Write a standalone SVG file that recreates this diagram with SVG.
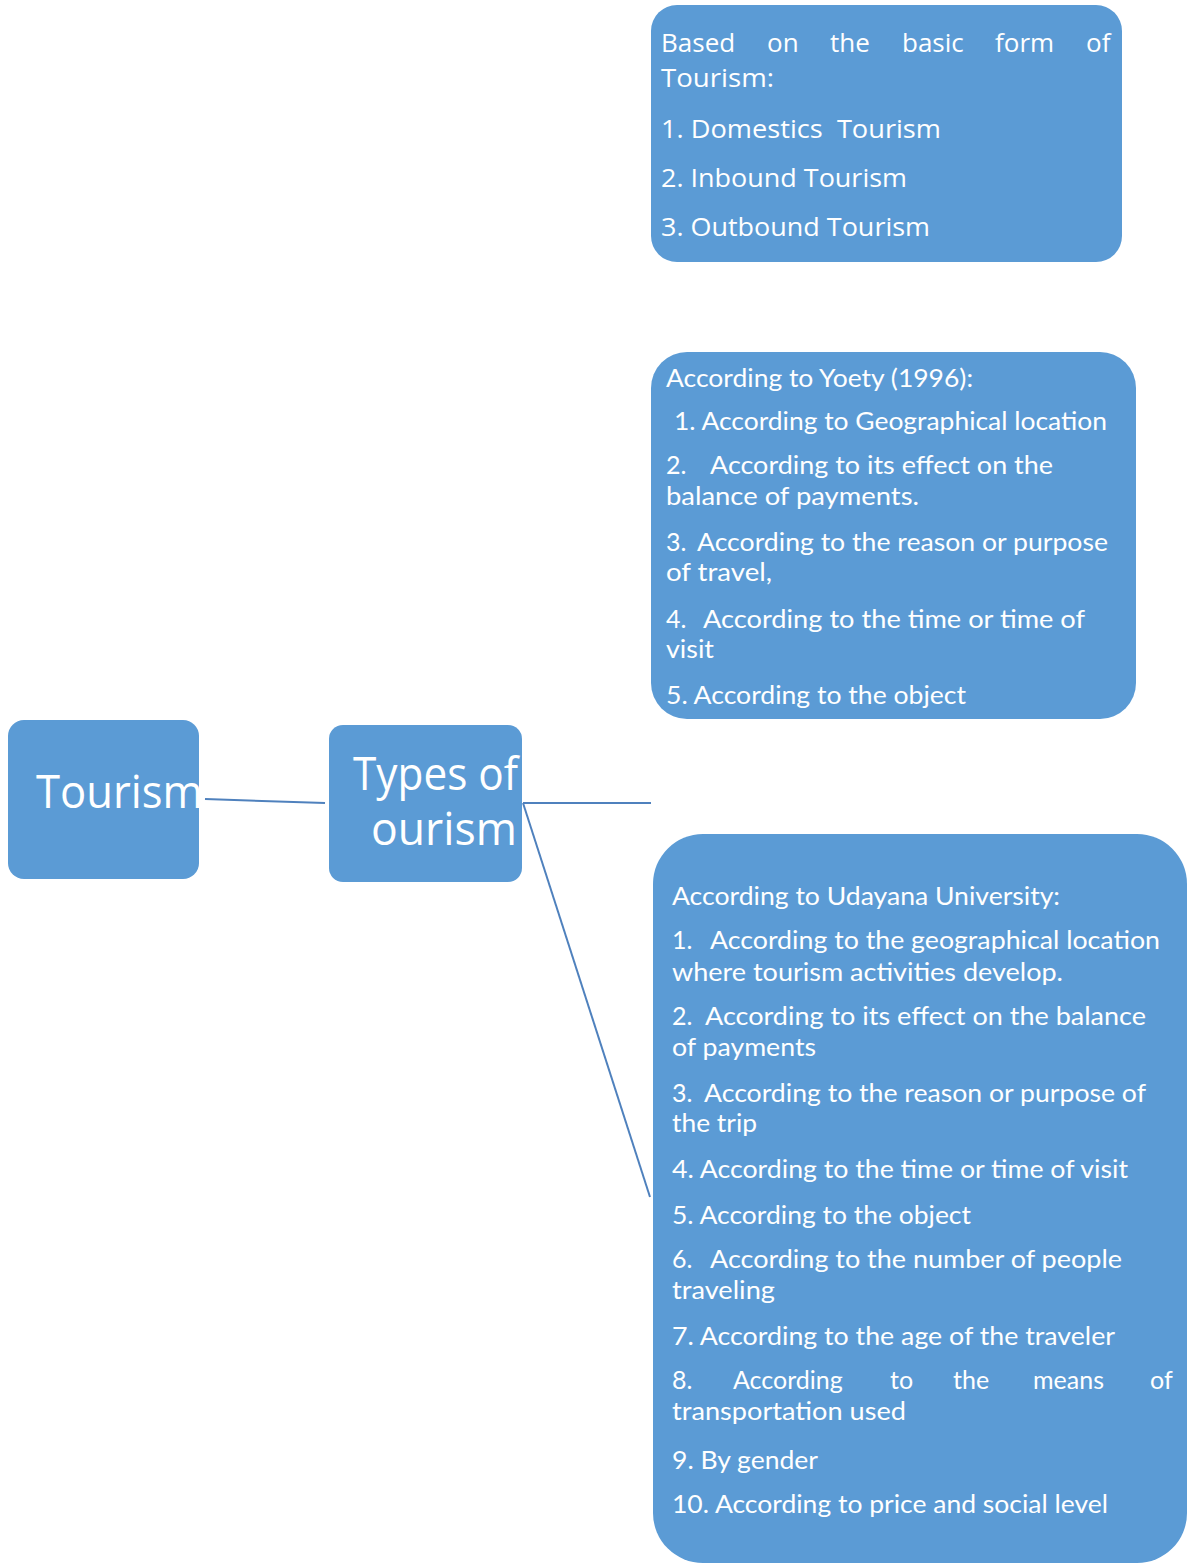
<svg xmlns="http://www.w3.org/2000/svg" width="1188" height="1564" viewBox="0 0 1188 1564">
  <style>
    text { white-space: pre; }
    .box { fill: #5B9BD5; }
    .conn { stroke: #4F81BD; stroke-width: 2; fill: none; }
    .big { font-family: "Open Sans", "Noto Sans", sans-serif; font-size: 45px; fill: #FFFFFF; }
    .seg { font-family: "Open Sans", "Noto Sans", sans-serif; font-size: 26px; fill: #FFFFFF; }
    .cal { font-family: Lato, "Liberation Sans", sans-serif; font-size: 25px; fill: #FFFFFF; }
  </style>
  <rect x="0" y="0" width="1188" height="1564" fill="#FFFFFF"/>

  <g id="connectors">
    <line class="conn" x1="205" y1="799" x2="325" y2="803"/>
    <line class="conn" x1="523" y1="803" x2="651" y2="803"/>
    <line class="conn" x1="523" y1="803" x2="650" y2="1197"/>
  </g>

  <g id="node-tourism">
    <rect class="box" x="8" y="720" width="191" height="159" rx="16"/>
    <text class="big" x="36" y="808" textLength="167" lengthAdjust="spacingAndGlyphs">Tourism</text>
  </g>

  <g id="node-types">
    <rect class="box" x="329" y="725" width="193" height="157" rx="14"/>
    <text class="big" x="353" y="790" textLength="165" lengthAdjust="spacingAndGlyphs">Types of</text>
    <text class="big" x="371" y="845" textLength="146" lengthAdjust="spacingAndGlyphs">ourism</text>
  </g>

  <g id="node-basic-form">
    <rect class="box" x="651" y="5" width="471" height="257" rx="26"/>
    <text class="seg" y="52"><tspan x="661">Based</tspan><tspan x="767">on</tspan><tspan x="830">the</tspan><tspan x="902">basic</tspan><tspan x="995">form</tspan><tspan x="1086">of</tspan></text>
    <text class="seg" x="661" y="87" textLength="113" lengthAdjust="spacingAndGlyphs">Tourism:</text>
    <text class="seg" x="661" y="138" textLength="280" lengthAdjust="spacingAndGlyphs">1. Domestics  Tourism</text>
    <text class="seg" x="661" y="187" textLength="246" lengthAdjust="spacingAndGlyphs">2. Inbound Tourism</text>
    <text class="seg" x="661" y="236" textLength="269" lengthAdjust="spacingAndGlyphs">3. Outbound Tourism</text>
  </g>

  <g id="node-yoety">
    <rect class="box" x="651" y="352" width="485" height="367" rx="36"/>
    <text class="cal" x="666" y="387" textLength="307" lengthAdjust="spacingAndGlyphs">According to Yoety (1996):</text>
    <text class="cal" x="674" y="430" textLength="433" lengthAdjust="spacingAndGlyphs">1. According to Geographical location</text>
    <text class="cal" y="474"><tspan x="666">2.</tspan><tspan x="710" textLength="343" lengthAdjust="spacingAndGlyphs">According to its effect on the</tspan></text>
    <text class="cal" x="666" y="505" textLength="253" lengthAdjust="spacingAndGlyphs">balance of payments.</text>
    <text class="cal" y="551"><tspan x="666">3.</tspan><tspan x="697" textLength="411" lengthAdjust="spacingAndGlyphs">According to the reason or purpose</tspan></text>
    <text class="cal" x="666" y="581" textLength="106" lengthAdjust="spacingAndGlyphs">of travel,</text>
    <text class="cal" y="628"><tspan x="666">4.</tspan><tspan x="703" textLength="382" lengthAdjust="spacingAndGlyphs">According to the time or time of</tspan></text>
    <text class="cal" x="666" y="658" textLength="48" lengthAdjust="spacingAndGlyphs">visit</text>
    <text class="cal" x="666" y="704" textLength="300" lengthAdjust="spacingAndGlyphs">5. According to the object</text>
  </g>

  <g id="node-udayana">
    <path class="box" d="M703,834 H1137 A50,50 0 0 1 1187,884 V1513 A50,50 0 0 1 1137,1563 H703 A50,50 0 0 1 653,1513 V884 A50,50 0 0 1 703,834 Z"/>
    <text class="cal" x="672" y="905" textLength="388" lengthAdjust="spacingAndGlyphs">According to Udayana University:</text>
    <text class="cal" y="949"><tspan x="672">1.</tspan><tspan x="710" textLength="450" lengthAdjust="spacingAndGlyphs">According to the geographical location</tspan></text>
    <text class="cal" x="672" y="981" textLength="391" lengthAdjust="spacingAndGlyphs">where tourism activities develop.</text>
    <text class="cal" y="1025"><tspan x="672">2.</tspan><tspan x="705" textLength="441" lengthAdjust="spacingAndGlyphs">According to its effect on the balance</tspan></text>
    <text class="cal" x="672" y="1056" textLength="144" lengthAdjust="spacingAndGlyphs">of payments</text>
    <text class="cal" y="1102"><tspan x="672">3.</tspan><tspan x="704" textLength="442" lengthAdjust="spacingAndGlyphs">According to the reason or purpose of</tspan></text>
    <text class="cal" x="672" y="1132" textLength="85" lengthAdjust="spacingAndGlyphs">the trip</text>
    <text class="cal" x="672" y="1178" textLength="456" lengthAdjust="spacingAndGlyphs">4. According to the time or time of visit</text>
    <text class="cal" x="672" y="1224" textLength="299" lengthAdjust="spacingAndGlyphs">5. According to the object</text>
    <text class="cal" y="1268"><tspan x="672">6.</tspan><tspan x="710" textLength="412" lengthAdjust="spacingAndGlyphs">According to the number of people</tspan></text>
    <text class="cal" x="672" y="1299" textLength="103" lengthAdjust="spacingAndGlyphs">traveling</text>
    <text class="cal" x="672" y="1345" textLength="443" lengthAdjust="spacingAndGlyphs">7. According to the age of the traveler</text>
    <text class="cal" y="1389"><tspan x="672">8.</tspan><tspan x="733">According</tspan><tspan x="890">to</tspan><tspan x="953">the</tspan><tspan x="1033">means</tspan><tspan x="1150">of</tspan></text>
    <text class="cal" x="672" y="1420" textLength="234" lengthAdjust="spacingAndGlyphs">transportation used</text>
    <text class="cal" x="672" y="1469" textLength="146" lengthAdjust="spacingAndGlyphs">9. By gender</text>
    <text class="cal" x="672" y="1513" textLength="436" lengthAdjust="spacingAndGlyphs">10. According to price and social level</text>
  </g>
</svg>
